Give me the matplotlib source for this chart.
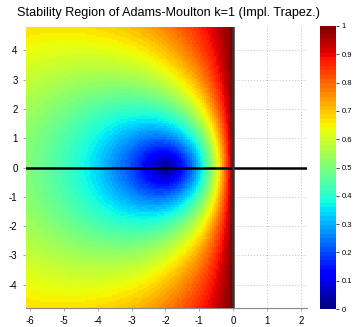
import numpy as np
import matplotlib
matplotlib.use("Agg")
import matplotlib.pyplot as plt

plt.rcParams["font.family"] = ["Liberation Sans", "DejaVu Sans"]

title = "Stability Region of Adams-Moulton k=1 (Impl. Trapez.)"
xlim = [-6.12, 2.18]
ylim = [-4.8, 4.8]
xticks = [-6, -5, -4, -3, -2, -1, 0, 1, 2]
yticks = [-4, -3, -2, -1, 0, 1, 2, 3, 4]
cticks = [0, 0.1, 0.2, 0.3, 0.4, 0.5, 0.6, 0.7, 0.8, 0.9, 1]
clabels = ["0", "0.1", "0.2", "0.3", "0.4", "0.5", "0.6", "0.7", "0.8", "0.9", "1"]
step = 0.06

# amplification factor of the trapezoidal rule on a grid
re = np.arange(xlim[0], 0 + step / 2, step)
im = np.arange(ylim[0], ylim[1] + step / 2, step)
Re, Im = np.meshgrid(re, im)
Z = Re + 1j * Im
R = np.abs((1 + Z / 2) / (1 - Z / 2))
R = np.where(R <= 1, R, np.nan)

fig = plt.figure(figsize=(3.58, 3.27), dpi=100)
ax = fig.add_axes([26 / 358, 19 / 327, 281 / 358, 281 / 327])
cax = fig.add_axes([320 / 358, 18 / 327, 16 / 358, 283 / 327])

cmap = plt.get_cmap("jet", 64)
ax.set_axisbelow(True)
ax.grid(True, linestyle=(0, (1, 2)), color="#c0c0c0", linewidth=0.7)
mesh = ax.pcolormesh(re, im, R, cmap=cmap, vmin=0, vmax=1, shading="nearest", zorder=1)

ax.plot(xlim, [0, 0], color="black", linewidth=1.8, zorder=3)
ax.plot([0, 0], ylim, color="#333333", linewidth=1.8, zorder=3)

ax.set_xlim(xlim)
ax.set_ylim(ylim)
ax.set_xticks(xticks)
ax.set_yticks(yticks)
ax.set_xticklabels([str(v) for v in xticks])
ax.set_yticklabels([str(v) for v in yticks])
ax.tick_params(labelsize=7, length=2, width=0.5, color="#888888", pad=4)
for s in ["top", "right", "left"]:
    ax.spines[s].set_visible(False)
ax.spines["bottom"].set_color("#888888")
ax.spines["bottom"].set_linewidth(0.8)

fig.text(17 / 358, 1 - 13 / 327, title, fontsize=9.1, va="center", ha="left")

cb = fig.colorbar(mesh, cax=cax, ticks=cticks)
cb.ax.set_yticklabels(clabels)
cb.ax.tick_params(labelsize=5.5, length=2, width=0.5, pad=2)
cb.outline.set_visible(False)

fig.savefig("out.png", dpi=100)
